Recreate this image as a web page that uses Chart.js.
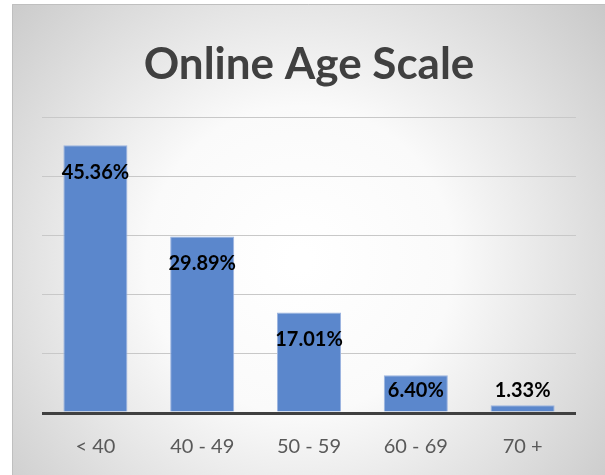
<!DOCTYPE html>
<html><head><meta charset="utf-8">
<script src="https://cdn.jsdelivr.net/npm/chart.js@4"></script>
<style>html,body{margin:0;padding:0;background:#fff}canvas{display:block}</style>
</head><body>
<div style="width:605px;height:475px"><canvas id="c" width="605" height="475"></canvas></div>
<script>
const categories = ["< 40", "40 - 49", "50 - 59", "60 - 69", "70 +"];
const shares = [45.36, 29.89, 17.01, 6.40, 1.33];
const valueLabels = ["45.36%", "29.89%", "17.01%", "6.40%", "1.33%"];
const titleText = "Online Age Scale";

const bgPlugin = {
  id: 'bg',
  beforeDraw(chart) {
    const ctx = chart.ctx;
    ctx.save();
    ctx.fillStyle = '#ffffff';
    ctx.fillRect(0, 0, 605, 475);
    const g = ctx.createRadialGradient(300, 260, 10, 300, 260, 420);
    g.addColorStop(0, '#ffffff');
    g.addColorStop(0.35, '#fafafa');
    g.addColorStop(1, '#c4c4c4');
    ctx.fillStyle = g;
    ctx.fillRect(12, 4, 593, 471);
    ctx.strokeStyle = '#bfbfbf';
    ctx.lineWidth = 1;
    ctx.beginPath();
    ctx.moveTo(12.5, 475); ctx.lineTo(12.5, 4.5); ctx.lineTo(605, 4.5);
    ctx.stroke();
    ctx.restore();
  }
};

const labelPlugin = {
  id: 'vlabels',
  afterDatasetsDraw(chart) {
    const ctx = chart.ctx;
    const meta = chart.getDatasetMeta(0);
    const base = chart.scales.y.getPixelForValue(0);
    ctx.save();
    ctx.font = 'bold 20px Lato';
    ctx.fillStyle = '#000000';
    ctx.textAlign = 'center';
    ctx.textBaseline = 'middle';
    meta.data.forEach((bar, i) => {
      const y = Math.min(bar.y + 27, base - 22);
      ctx.fillText(valueLabels[i], bar.x, y);
    });
    ctx.restore();
  }
};

new Chart(document.getElementById('c'), {
  type: 'bar',
  data: {
    labels: categories,
    datasets: [{
      data: shares,
      backgroundColor: '#5b87cc',
      borderColor: '#9db5e0',
      borderWidth: 1,
      categoryPercentage: 1,
      barPercentage: 0.6
    }]
  },
  options: {
    responsive: false,
    animation: false,
    layout: { padding: { left: 42, right: 29, top: 0, bottom: 0 } },
    plugins: {
      legend: { display: false },
      tooltip: { enabled: false },
      title: {
        display: true,
        text: titleText,
        color: '#404040',
        font: { family: 'Lato', size: 44, weight: 'bold' },
        padding: { top: 38, bottom: 27 }
      }
    },
    scales: {
      x: {
        grid: { display: false },
        border: { display: false },
        ticks: { color: '#595959', font: { family: 'Lato', size: 20 }, padding: 14 },
        afterFit: s => { s.height = 62; }
      },
      y: {
        min: 0, max: 50,
        ticks: { display: false, stepSize: 10 },
        border: { display: false },
        grid: {
          drawTicks: false,
          color: ctx => ctx.tick.value === 0 ? '#404040' : '#c8c8c8',
          lineWidth: ctx => ctx.tick.value === 0 ? 3 : 1
        }
      }
    }
  },
  plugins: [bgPlugin, labelPlugin]
});
</script>
</body></html>
